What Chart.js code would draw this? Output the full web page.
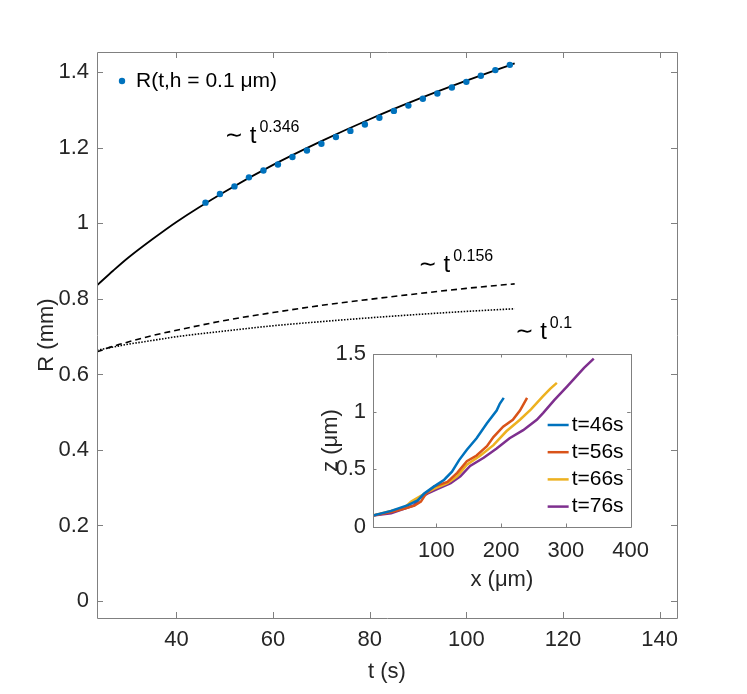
<!DOCTYPE html>
<html>
<head>
<meta charset="utf-8">
<script src="https://cdn.jsdelivr.net/npm/chart.js@4.4.1/dist/chart.umd.min.js"></script>
<style>
  html, body { margin: 0; padding: 0; background: #fff; }
  #wrap { position: relative; width: 747px; height: 694px; }
  #main { position: absolute; left: 0; top: 0; }
  #inset { position: absolute; left: 300px; top: 330px; }
</style>
</head>
<body>
<div id="wrap">
  <canvas id="main" width="747" height="694"></canvas>
  <canvas id="inset" width="360" height="270"></canvas>
</div>
<script>
// measured radius R(t) at h = 0.1 um
const tMeas = [46, 49, 52, 55, 58, 61, 64, 67, 70, 73, 76, 79, 82, 85, 88, 91, 94, 97, 100, 103, 106, 109];
const rMeas = [1.055, 1.078, 1.098, 1.122, 1.140, 1.156, 1.176, 1.193, 1.211, 1.229, 1.245,
               1.262, 1.280, 1.298, 1.312, 1.330, 1.344, 1.360, 1.375, 1.391, 1.406, 1.420];

// power-law curves
const tFit  = [23.55, 27, 30, 35, 40, 50, 60, 70, 80, 90, 100, 110];
const rFit346 = [0.836, 0.876, 0.909, 0.958, 1.004, 1.084, 1.155, 1.218, 1.276, 1.329, 1.378, 1.424];
const rFit156 = [0.660, 0.675, 0.686, 0.703, 0.717, 0.743, 0.764, 0.783, 0.799, 0.814, 0.828, 0.840];
const rFit100 = [0.664, 0.673, 0.680, 0.690, 0.700, 0.715, 0.729, 0.740, 0.750, 0.759, 0.767, 0.774];

const xTicks = [40, 60, 80, 100, 120, 140];
const yTicks = [0, 0.2, 0.4, 0.6, 0.8, 1, 1.2, 1.4];

// inset profiles z(x)
const profileLabels = ['t=46s', 't=56s', 't=66s', 't=76s'];
const profileColors = ['#0072BD', '#D95319', '#EDB120', '#7E2F8E'];
const x46 = [2, 30, 56, 71, 81, 96, 112, 124, 135, 147, 162, 178, 193, 198, 204];
const z46 = [0.10, 0.14, 0.19, 0.23, 0.29, 0.35, 0.41, 0.48, 0.58, 0.67, 0.77, 0.90, 1.01, 1.07, 1.12];
const x56 = [2, 30, 51, 66, 76, 84, 96, 117, 132, 147, 162, 178, 188, 203, 218, 229, 240];
const z56 = [0.10, 0.13, 0.16, 0.185, 0.22, 0.29, 0.35, 0.39, 0.47, 0.57, 0.62, 0.70, 0.78, 0.87, 0.93, 1.01, 1.12];
const x66 = [2, 30, 51, 61, 76, 96, 117, 132, 147, 168, 188, 208, 229, 246, 264, 276, 286];
const z66 = [0.10, 0.14, 0.17, 0.22, 0.27, 0.33, 0.38, 0.44, 0.54, 0.62, 0.71, 0.83, 0.93, 1.02, 1.13, 1.20, 1.25];
const x76 = [2, 30, 51, 66, 74, 86, 102, 122, 137, 152, 173, 193, 213, 234, 255, 265, 282, 302, 315, 328, 343];
const z76 = [0.10, 0.12, 0.16, 0.19, 0.25, 0.29, 0.33, 0.38, 0.44, 0.53, 0.60, 0.68, 0.77, 0.84, 0.93, 0.99, 1.10, 1.22, 1.30, 1.38, 1.46];
const insetXTicks = [100, 200, 300, 400];
const insetYTicks = [0, 0.5, 1, 1.5];

// power-law labels, anchored in data units (t, R)
const fitLabels = [
  { exp: '0.346', t: 50.0, r: 1.213 },
  { exp: '0.156', t: 90.1, r: 0.872 },
  { exp: '0.1',   t: 110.1, r: 0.694 }
];

const FONT = '"Liberation Sans", Arial, Helvetica, sans-serif';
const TXT = '#262626';
const AXIS = '#808080';

const pts = (xs, ys) => xs.map((v, i) => ({ x: v, y: ys[i] }));
const fixTicks = list => s => { s.ticks = list.map(v => ({ value: v })); };

// box around the axes with ticks pointing inward, MATLAB style
const boxTicks = {
  id: 'boxTicks',
  afterDatasetsDraw(chart, args, opts) {
    const { ctx, chartArea: a, scales: { x, y } } = chart;
    const len = opts.len || 6;
    ctx.save();
    ctx.strokeStyle = AXIS;
    ctx.lineWidth = 1;
    ctx.beginPath();
    ctx.rect(Math.round(a.left) + 0.5, Math.round(a.top) + 0.5,
             Math.round(a.right) - Math.round(a.left), Math.round(a.bottom) - Math.round(a.top));
    x.ticks.forEach(t => {
      const px = Math.round(x.getPixelForValue(t.value)) + 0.5;
      ctx.moveTo(px, a.bottom); ctx.lineTo(px, a.bottom - len);
      ctx.moveTo(px, a.top); ctx.lineTo(px, a.top + len);
    });
    y.ticks.forEach(t => {
      const py = Math.round(y.getPixelForValue(t.value)) + 0.5;
      ctx.moveTo(a.left, py); ctx.lineTo(a.left + len, py);
      ctx.moveTo(a.right, py); ctx.lineTo(a.right - len, py);
    });
    ctx.stroke();
    ctx.restore();
  }
};

const whiteArea = {
  id: 'whiteArea',
  beforeDatasetsDraw(chart) {
    const { ctx, chartArea: a } = chart;
    ctx.save();
    ctx.fillStyle = '#fff';
    ctx.fillRect(a.left, a.top, a.width, a.height);
    ctx.restore();
  }
};

// legend for the measured points + the ~t^n labels
const mainText = {
  id: 'mainText',
  afterDraw(chart) {
    const { ctx, chartArea: a, scales: { x, y } } = chart;
    ctx.save();
    const ds = chart.data.datasets[0];
    ctx.fillStyle = ds.backgroundColor;
    ctx.beginPath();
    ctx.arc(a.left + 25, a.top + 29, 3.2, 0, Math.PI * 2);
    ctx.fill();
    ctx.fillStyle = '#000';
    ctx.font = '21px ' + FONT;
    ctx.textBaseline = 'middle';
    ctx.fillText(ds.label, a.left + 39, a.top + 29);

    ctx.textBaseline = 'alphabetic';
    fitLabels.forEach(l => {
      const px = x.getPixelForValue(l.t);
      const py = y.getPixelForValue(l.r);
      ctx.font = '22px "DejaVu Sans", sans-serif';
      ctx.fillText('\u223C', px, py - 1);
      ctx.font = '24px ' + FONT;
      ctx.fillText('t', px + 25, py);
      const w = ctx.measureText('t').width;
      ctx.font = '16px ' + FONT;
      ctx.fillText(l.exp, px + 25 + w + 3, py - 11);
    });
    ctx.restore();
  }
};

const insetLegend = {
  id: 'insetLegend',
  afterDraw(chart) {
    const { ctx, chartArea: a } = chart;
    ctx.save();
    ctx.font = '21px ' + FONT;
    ctx.textBaseline = 'middle';
    chart.data.datasets.forEach((ds, i) => {
      const yy = a.top + 71 + i * 27.2;
      ctx.strokeStyle = ds.borderColor;
      ctx.lineWidth = 2.5;
      ctx.beginPath();
      ctx.moveTo(a.right - 83, yy);
      ctx.lineTo(a.right - 62, yy);
      ctx.stroke();
      ctx.fillStyle = '#000';
      ctx.fillText(ds.label, a.right - 59, yy);
    });
    ctx.restore();
  }
};

const tickFont = { family: FONT, size: 22 };
const noGrid = { display: false, drawTicks: false };

new Chart(document.getElementById('main'), {
  type: 'scatter',
  data: {
    datasets: [
      {
        label: 'R(t,h = 0.1 \u03BCm)',
        data: pts(tMeas, rMeas),
        backgroundColor: '#0072BD',
        borderColor: '#0072BD',
        pointRadius: 3.2,
        borderWidth: 0,
        showLine: false
      },
      {
        label: 'fit 0.346',
        data: pts(tFit, rFit346),
        borderColor: '#000',
        borderWidth: 1.8,
        pointRadius: 0,
        showLine: true,
        cubicInterpolationMode: 'monotone'
      },
      {
        label: 'fit 0.156',
        data: pts(tFit, rFit156),
        borderColor: '#000',
        borderWidth: 1.6,
        borderDash: [6, 4],
        pointRadius: 0,
        showLine: true,
        cubicInterpolationMode: 'monotone'
      },
      {
        label: 'fit 0.1',
        data: pts(tFit, rFit100),
        borderColor: '#000',
        borderWidth: 1.6,
        borderDash: [1.5, 1.5],
        pointRadius: 0,
        showLine: true,
        cubicInterpolationMode: 'monotone'
      }
    ]
  },
  options: {
    responsive: false,
    animation: false,
    layout: { padding: { left: 0, top: 52, right: 70, bottom: 0 } },
    plugins: { legend: { display: false }, tooltip: { enabled: false }, boxTicks: { len: 6 } },
    scales: {
      x: {
        type: 'linear',
        min: 23.55,
        max: 143.6,
        afterBuildTicks: fixTicks(xTicks),
        afterFit: s => { s.height = 76; },
        grid: noGrid,
        border: { display: false },
        ticks: { color: TXT, font: tickFont, padding: 9, maxRotation: 0 },
        title: { display: true, text: 't (s)', color: TXT, font: tickFont, padding: { top: 0, bottom: 9 } }
      },
      y: {
        type: 'linear',
        min: -0.045,
        max: 1.454,
        afterBuildTicks: fixTicks(yTicks),
        afterFit: s => { s.width = 97; },
        grid: noGrid,
        border: { display: false },
        ticks: { color: TXT, font: tickFont, padding: 8, callback: v => String(v) },
        title: { display: true, text: 'R (mm)', color: TXT, font: tickFont, padding: { top: 34, bottom: 0 } }
      }
    }
  },
  plugins: [boxTicks, mainText]
});

const profiles = [[x46, z46], [x56, z56], [x66, z66], [x76, z76]];

new Chart(document.getElementById('inset'), {
  type: 'scatter',
  data: {
    datasets: profiles.map((p, i) => ({
      label: profileLabels[i],
      data: pts(p[0], p[1]),
      borderColor: profileColors[i],
      backgroundColor: profileColors[i],
      borderWidth: 2.5,
      pointRadius: 0,
      showLine: true,
      tension: 0
    }))
  },
  options: {
    responsive: false,
    animation: false,
    layout: { padding: { left: 0, top: 24, right: 25, bottom: 0 } },
    plugins: { legend: { display: false }, tooltip: { enabled: false }, boxTicks: { len: 3.5 } },
    scales: {
      x: {
        type: 'linear',
        min: 2,
        max: 400,
        afterBuildTicks: fixTicks(insetXTicks),
        afterFit: s => { s.height = 73; },
        grid: noGrid,
        border: { display: false },
        ticks: { color: TXT, font: tickFont, padding: 11, maxRotation: 0 },
        title: { display: true, text: 'x (\u03BCm)', color: TXT, font: tickFont, padding: { top: 0, bottom: 7 } }
      },
      y: {
        type: 'linear',
        min: 0,
        max: 1.5,
        afterBuildTicks: fixTicks(insetYTicks),
        afterFit: s => { s.width = 73; },
        grid: noGrid,
        border: { display: false },
        ticks: { color: TXT, font: tickFont, padding: 7, callback: v => String(v) },
        title: { display: true, text: 'z (\u03BCm)', color: TXT, font: tickFont, padding: { top: 18, bottom: 0 } }
      }
    }
  },
  plugins: [whiteArea, boxTicks, insetLegend]
});
</script>
</body>
</html>
